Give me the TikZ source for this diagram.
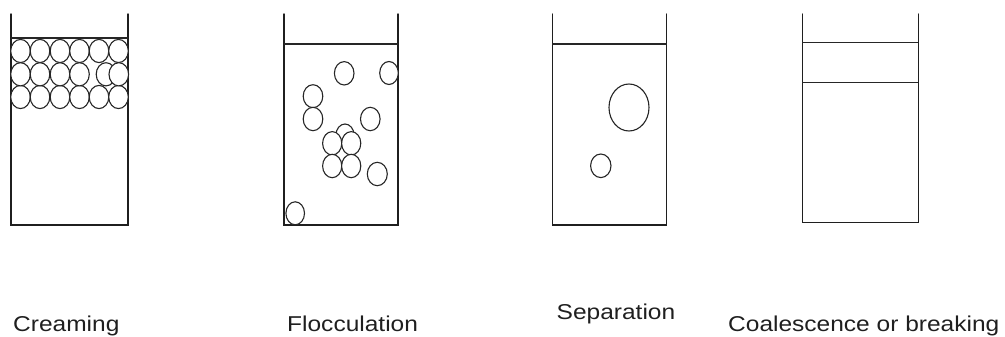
\documentclass[tikz,border=0pt]{standalone}
\usepackage{graphicx}
\usepackage{fontspec}
\newfontfamily\labfont{Liberation Sans}
\tikzset{
  wall/.style={line width=1.4pt, draw=black!88, line cap=round, line join=miter},
  level/.style={line width=1.3pt, draw=black!85},
  drop/.style={line width=1.1pt, draw=black!85, fill=white},
  lab/.style={inner sep=0pt, anchor=base west, font=\labfont\fontsize{21.5}{25}\selectfont, text=black!88}
}
\newcommand{\wide}[1]{\scalebox{1.14}[1]{#1}}
\begin{document}
\begin{tikzpicture}[x=1pt,y=-1pt]
\useasboundingbox (0,0) rectangle (1005,337);
% ---------- Beaker 1: Creaming ----------
\draw[wall] (11,14) -- (11,225) -- (128,225) -- (128,14);
\draw[level] (11,38) -- (128,38);
\foreach \cx in {20.5,40,60,79.5,99,118.5}{
  \draw[drop] (\cx,51) ellipse [x radius=9.8pt, y radius=11.6pt];
  \draw[drop] (\cx,97) ellipse [x radius=9.8pt, y radius=11.6pt];
}
\foreach \cx in {20.5,40,60,79.5,106,118.8}{
  \draw[drop] (\cx,74.3) ellipse [x radius=9.8pt, y radius=11.6pt];
}
% ---------- Beaker 2: Flocculation ----------
\draw[wall] (284,14) -- (284,225) -- (398,225) -- (398,14);
\draw[level] (284,44) -- (398,44);
\draw[drop] (344.2,73.3) ellipse [x radius=9.8pt, y radius=11.7pt];
\draw[drop] (389,73) ellipse [x radius=9.3pt, y radius=11.5pt];
\draw[drop] (313,96.2) ellipse [x radius=9.8pt, y radius=11.5pt];
\draw[drop] (313,119) ellipse [x radius=9.8pt, y radius=11.7pt];
\draw[drop] (370.3,119) ellipse [x radius=9.8pt, y radius=11.7pt];
\draw[drop] (345,135) ellipse [x radius=9pt, y radius=11pt];
\draw[drop] (332.2,143.3) ellipse [x radius=9.6pt, y radius=11.7pt];
\draw[drop] (351.2,143.3) ellipse [x radius=9.6pt, y radius=11.7pt];
\draw[drop] (332.2,166) ellipse [x radius=9.6pt, y radius=11.7pt];
\draw[drop] (351.2,166) ellipse [x radius=9.6pt, y radius=11.7pt];
\draw[drop] (377.3,174) ellipse [x radius=10pt, y radius=11.7pt];
\draw[drop] (295.2,213.3) ellipse [x radius=9.3pt, y radius=11.5pt];
% ---------- Beaker 3: Separation ----------
\draw[wall] (552.3,14) -- (552.3,225) -- (666.7,225) -- (666.7,14);
\draw[level] (552.3,44) -- (666.7,44);
\draw[drop] (629,107.5) ellipse [x radius=20pt, y radius=23.5pt];
\draw[drop] (600.8,165.8) ellipse [x radius=10.2pt, y radius=11.8pt];
% ---------- Beaker 4: Coalescence or breaking ----------
\draw[wall] (802.3,14) -- (802.3,222.7) -- (918.3,222.7) -- (918.3,14);
\draw[level] (802.3,42.7) -- (918.3,42.7);
\draw[level] (802.3,82.7) -- (918.3,82.7);
% ---------- Labels ----------
\node[lab] (creaming) at (13,331.5) {\wide{Creaming}};
\node[lab] (flocculation) at (287,331.5) {\wide{Flocculation}};
\node[lab] (separation) at (556.5,319) {\wide{Separation}};
\node[lab] (coalescence) at (728,331.5) {\wide{Coalescence or breaking}};
\end{tikzpicture}
\end{document}
